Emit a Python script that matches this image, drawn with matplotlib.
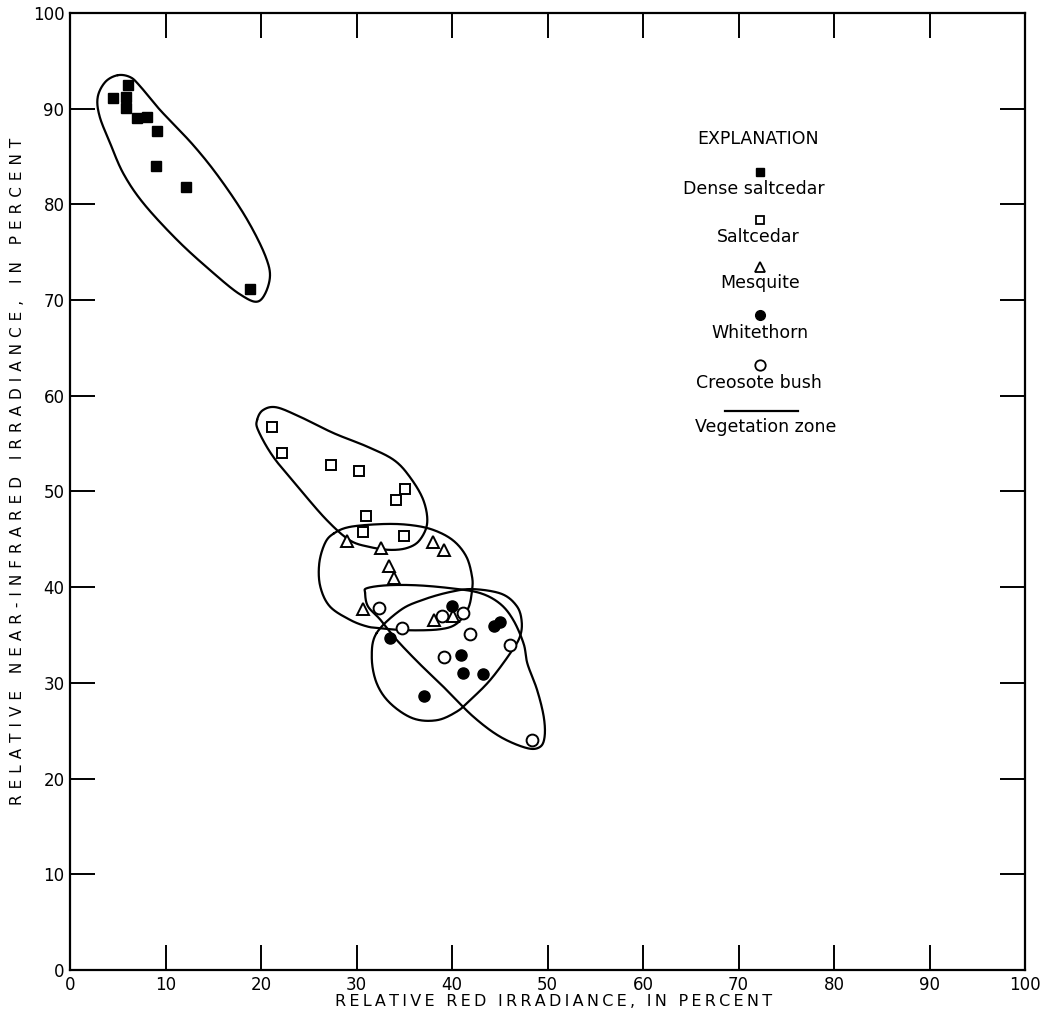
import numpy as np
import matplotlib
matplotlib.use("Agg")
import matplotlib.pyplot as plt

# ---------------- data ----------------
dense_x = [4.5, 6.1, 5.9, 5.9, 7.0, 8.1, 9.1, 9.0, 12.1, 18.9]
dense_y = [91.1, 92.5, 91.2, 90.1, 89.0, 89.1, 87.7, 84.0, 81.8, 71.2]

salt_x = [21.2, 22.2, 27.3, 30.3, 35.1, 34.1, 31.0, 30.7, 35.0]
salt_y = [56.7, 54.0, 52.8, 52.1, 50.3, 49.1, 47.4, 45.8, 45.3]

mesq_x = [29.0, 32.6, 38.0, 39.2, 33.4, 33.9, 30.7, 38.1, 40.1]
mesq_y = [44.8, 44.1, 44.7, 43.9, 42.2, 41.0, 37.7, 36.6, 37.0]

white_x = [40.0, 45.0, 44.4, 33.5, 40.9, 41.2, 43.2, 37.1]
white_y = [38.0, 36.4, 35.9, 34.7, 32.9, 31.0, 30.9, 28.6]

creo_x = [32.4, 39.0, 41.2, 34.8, 41.9, 39.2, 46.1, 48.4]
creo_y = [37.8, 37.0, 37.3, 35.7, 35.1, 32.7, 34.0, 24.0]

# vegetation zone outlines (control points of hand-drawn closed curves)
zone_dense = [(5.0, 93.5), (6.3, 93.3), (7.3, 92.4), (9.4, 89.9), (12.9, 86.2),
              (15.7, 82.7), (18.5, 78.5), (20.5, 74.5), (20.9, 72.1), (19.8, 69.9),
              (17.8, 70.6), (14.7, 73.1), (11.2, 76.3), (7.7, 80.1), (5.6, 83.2),
              (4.2, 86.4), (3.1, 89.2), (2.9, 91.2), (3.7, 92.8)]
zone_salt = [(19.6, 57.5), (20.2, 58.5), (21.6, 58.8), (24.1, 57.8), (27.6, 56.1),
             (31.1, 54.7), (33.9, 53.3), (35.6, 51.5), (37.0, 49.1), (37.4, 46.7),
             (36.6, 44.9), (35.3, 44.1), (33.5, 43.9), (31.4, 44.2), (29.3, 44.9),
             (26.9, 47.0), (24.1, 50.2), (21.3, 53.6), (19.7, 56.4)]
zone_mesq = [(27.6, 45.6), (29.3, 46.3), (32.8, 46.6), (35.6, 46.5), (38.0, 46.0),
             (40.1, 44.9), (41.5, 43.2), (42.1, 41.1), (42.1, 39.7), (41.7, 37.8),
             (40.5, 36.2), (38.7, 35.6), (35.3, 35.5), (32.6, 35.7), (31.1, 35.9),
             (29.3, 36.6), (27.2, 38.0), (26.2, 40.1), (26.1, 42.5), (26.7, 44.6)]
zone_white = [(32.1, 35.2), (34.6, 37.6), (37.0, 38.7), (39.8, 39.5), (42.2, 39.8),
              (45.2, 39.3), (46.8, 38.0), (47.3, 36.4), (47.1, 34.8), (46.1, 33.1),
              (44.0, 30.3), (41.9, 28.2), (40.5, 27.0), (38.4, 26.1), (35.9, 26.3),
              (33.5, 27.9), (32.1, 30.0), (31.6, 32.7)]
zone_creo = [(30.9, 39.4), (31.1, 39.9), (33.2, 40.2), (36.3, 40.2), (39.8, 39.9),
             (42.9, 39.4), (45.0, 38.3), (46.4, 36.6), (47.5, 34.1), (47.9, 32.0),
             (48.9, 29.3), (49.6, 26.5), (49.7, 24.4), (49.2, 23.3), (47.8, 23.2),
             (45.0, 24.4), (42.2, 26.5), (39.4, 29.3), (36.6, 32.0), (34.2, 34.5),
             (32.5, 36.6), (31.2, 38.0)]

legend_labels = ["Dense saltcedar", "Saltcedar", "Mesquite", "Whitethorn",
                 "Creosote bush", "Vegetation zone"]

xlabel = "RELATIVE RED IRRADIANCE, IN PERCENT"
ylabel = "RELATIVE NEAR-INFRARED IRRADIANCE, IN PERCENT"

xticks = list(range(0, 101, 10))
yticks = list(range(0, 101, 10))

FONT = "DejaVu Sans"


def closed_smooth(points, n=24):
    p = np.asarray(points, dtype=float)
    m = len(p)
    out = []
    for i in range(m):
        p0, p1, p2, p3 = p[(i - 1) % m], p[i], p[(i + 1) % m], p[(i + 2) % m]
        t = np.linspace(0, 1, n, endpoint=False)[:, None]
        t2, t3 = t * t, t * t * t
        seg = 0.5 * ((2 * p1) + (-p0 + p2) * t + (2 * p0 - 5 * p1 + 4 * p2 - p3) * t2
                     + (-p0 + 3 * p1 - 3 * p2 + p3) * t3)
        out.append(seg)
    out = np.vstack(out)
    return np.vstack([out, out[:1]])


def spaced(s, k=1):
    return ("\u2009" * k).join(s)


fig = plt.figure(figsize=(10.43, 10.25), dpi=100)
ax = fig.add_axes([70 / 1043, 1 - 970 / 1025, 955 / 1043, 957 / 1025])
ax.set_xlim(0, 100)
ax.set_ylim(0, 100)

lw = 1.6
for zone in [zone_dense, zone_salt, zone_mesq, zone_white, zone_creo]:
    c = closed_smooth(zone)
    ax.plot(c[:, 0], c[:, 1], color="black", lw=lw, solid_capstyle="round", zorder=2)

ax.plot(dense_x, dense_y, ls="none", marker="s", ms=6.5, mfc="black", mec="black", zorder=3)
ax.plot(salt_x, salt_y, ls="none", marker="s", ms=7.5, mfc="white", mec="black", mew=1.4, zorder=3)
ax.plot(mesq_x, mesq_y, ls="none", marker="^", ms=8, mfc="white", mec="black", mew=1.4, zorder=3)
ax.plot(white_x, white_y, ls="none", marker="o", ms=8, mfc="black", mec="black", zorder=3)
ax.plot(creo_x, creo_y, ls="none", marker="o", ms=8.5, mfc="white", mec="black", mew=1.4, zorder=3)

# explanation block
tfs = 12.5
ax.text(72.0, 86.8, "EXPLANATION", ha="center", va="center", fontsize=12.5, family=FONT)
leg_marker_y = [83.4, 78.4, 73.5, 68.4, 63.2]
leg_text_y = [81.6, 76.6, 71.8, 66.6, 61.3]
leg_text_x = [71.6, 72.1, 72.3, 72.3, 72.1]
leg_styles = [dict(marker="s", ms=5.5, mfc="black", mec="black"),
              dict(marker="s", ms=6, mfc="white", mec="black", mew=1.3),
              dict(marker="^", ms=6.5, mfc="white", mec="black", mew=1.3),
              dict(marker="o", ms=7, mfc="black", mec="black"),
              dict(marker="o", ms=7.5, mfc="white", mec="black", mew=1.3)]
for lab, my, tx, ty, st in zip(legend_labels[:5], leg_marker_y, leg_text_x, leg_text_y, leg_styles):
    ax.plot([72.2], [my], ls="none", **st)
    ax.text(tx, ty, lab, ha="center", va="center", fontsize=tfs, family=FONT)
ax.plot([68.6, 76.2], [58.4, 58.4], color="black", lw=lw)
ax.text(72.8, 56.7, legend_labels[5], ha="center", va="center", fontsize=tfs, family=FONT)

# axes styling
for s in ax.spines.values():
    s.set_linewidth(1.6)
ax.set_xticks(xticks)
ax.set_yticks(yticks)
ax.tick_params(direction="in", length=18, width=1.4, top=True, right=True,
               labelsize=12, pad=4)
for lab in ax.get_xticklabels() + ax.get_yticklabels():
    lab.set_family(FONT)

fig.text(554 / 1043, 1 - 1001 / 1025, spaced(xlabel, 1), ha="center", va="center",
         fontsize=11.5, family=FONT)
fig.text(18 / 1043, 1 - 471 / 1025, spaced(ylabel, 2), ha="center", va="center",
         rotation=90, fontsize=11, family=FONT)

fig.savefig("out.png", dpi=100)
